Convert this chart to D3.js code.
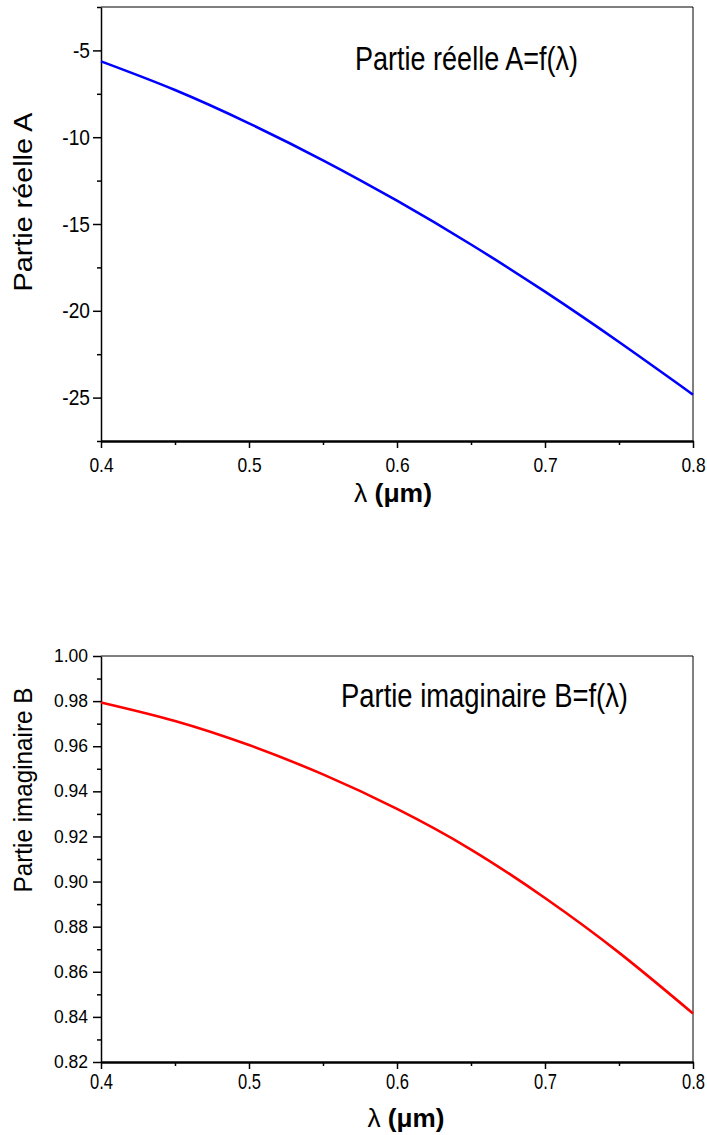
<!DOCTYPE html>
<html>
<head>
<meta charset="utf-8">
<script src="https://cdn.jsdelivr.net/npm/d3@7"></script>
<style>
  body { margin: 0; background: #fff; }
  svg text { font-family: "Liberation Sans", Arial, sans-serif; fill: #000; }
</style>
</head>
<body>
<svg id="chart" width="707" height="1135"></svg>
<script>
// wavelength (um)
var lambda = [0.40, 0.45, 0.50, 0.55, 0.60, 0.65, 0.70, 0.75, 0.80];
// real part A
var partieReelle = [-5.63, -7.28, -9.20, -11.33, -13.66, -16.18, -18.90, -21.80, -24.83];
// imaginary part B
var partieImaginaire = [0.9794, 0.9712, 0.9605, 0.9475, 0.9322, 0.9142, 0.8927, 0.8685, 0.8415];

var xTicks = [0.4, 0.5, 0.6, 0.7, 0.8];
var xMinor = [0.45, 0.55, 0.65, 0.75];
var yTicksA = [-25, -20, -15, -10, -5];
var yMinorA = [-27.5, -22.5, -17.5, -12.5, -7.5, -2.5];
var yTicksB = [0.82, 0.84, 0.86, 0.88, 0.90, 0.92, 0.94, 0.96, 0.98, 1.00];
var yMinorB = [0.83, 0.85, 0.87, 0.89, 0.91, 0.93, 0.95, 0.97, 0.99];

var svg = d3.select("#chart");

/* squeeze text horizontally like the stretched original */
function condense(sel, ratio){
    sel.each(function(){
        var w = this.getComputedTextLength();
        d3.select(this).attr("textLength", w*ratio).attr("lengthAdjust", "spacingAndGlyphs");
    });
}

function panel(o){
    var g = svg.append("g");
    var x = d3.scaleLinear().domain([0.4, 0.8]).range([o.left, o.right]);
    var y = d3.scaleLinear().domain(o.yDomain).range([o.bottom, o.top]);

    // frame top + right
    g.append("line").attr("x1", o.left).attr("x2", o.right).attr("y1", o.top).attr("y2", o.top)
        .attr("stroke", "#000").attr("stroke-width", 1);
    g.append("line").attr("x1", o.right).attr("x2", o.right).attr("y1", o.top).attr("y2", o.bottom)
        .attr("stroke", "#000").attr("stroke-width", 1);

    // minor ticks
    g.append("g").attr("transform", "translate(" + o.left + ",0)")
        .call(d3.axisLeft(y).tickValues(o.yMinor).tickSize(4).tickFormat(""))
        .call(function(a){ a.select(".domain").remove(); a.selectAll("line").attr("stroke-width", 1.5); });
    g.append("g").attr("transform", "translate(0," + o.bottom + ")")
        .call(d3.axisBottom(x).tickValues(xMinor).tickSize(4).tickFormat(""))
        .call(function(a){ a.select(".domain").remove(); a.selectAll("line").attr("stroke-width", 1.5); });

    // y axis
    var ya = g.append("g").attr("transform", "translate(" + o.left + ",0)")
        .call(d3.axisLeft(y).tickValues(o.yTicks).tickSize(8).tickSizeOuter(0).tickPadding(o.yPad).tickFormat(o.yFormat));
    ya.select(".domain").attr("stroke-width", 1.5);
    ya.selectAll("line").attr("stroke-width", 1.5);
    ya.selectAll("text").attr("font-size", o.yFont).style("font-family", '"Liberation Sans", Arial, sans-serif');
    condense(ya.selectAll("text"), o.yRatio);

    // x axis
    var xa = g.append("g").attr("transform", "translate(0," + o.bottom + ")")
        .call(d3.axisBottom(x).tickValues(xTicks).tickSize(7).tickSizeOuter(0).tickPadding(o.xPad).tickFormat(d3.format(".1f")));
    xa.select(".domain").attr("stroke-width", 2.5);
    xa.selectAll("line").attr("stroke-width", 1.5);
    xa.selectAll("text").attr("font-size", o.xFont).style("font-family", '"Liberation Sans", Arial, sans-serif');
    condense(xa.selectAll("text"), o.xRatio);

    // curve
    var line = d3.line()
        .x(function(d, i){ return x(lambda[i]); })
        .y(function(d){ return y(d); })
        .curve(d3.curveNatural);
    g.append("path").datum(o.values)
        .attr("d", line)
        .attr("fill", "none")
        .attr("stroke", o.color)
        .attr("stroke-width", 2.6);

    // annotation
    var ann = g.append("text").attr("x", o.annX).attr("y", o.annY).attr("font-size", 33)
        .text(o.annText);
    ann.attr("textLength", o.annW).attr("lengthAdjust", "spacingAndGlyphs");

    // y title
    g.append("text")
        .attr("transform", "translate(32," + o.yTitleC + ") rotate(-90)")
        .attr("text-anchor", "middle")
        .attr("font-size", 26)
        .attr("textLength", o.yTitleW).attr("lengthAdjust", "spacingAndGlyphs")
        .text(o.yTitle);

    // x title
    var xt = g.append("text")
        .attr("x", o.xTitleX).attr("y", o.xTitleY)
        .attr("text-anchor", "middle")
        .attr("font-size", 25)
        .attr("textLength", o.xTitleW).attr("lengthAdjust", "spacingAndGlyphs");
    xt.append("tspan").text("\u03bb");
    xt.append("tspan").attr("font-weight", "bold").text(" (\u03bcm)");
}

panel({
    left: 101, right: 693, top: 7, bottom: 441,
    yDomain: [-27.5, -2.5], yTicks: yTicksA, yMinor: yMinorA,
    yFormat: function(d){ return String(d); },
    yFont: 22, yRatio: 0.87, yPad: 3,
    xFont: 21, xRatio: 0.83, xPad: 9,
    values: partieReelle, color: "#0000ff",
    annText: "Partie r\u00e9elle A=f(\u03bb)", annX: 355, annY: 70, annW: 223,
    yTitle: "Partie r\u00e9elle A", yTitleC: 202, yTitleW: 179,
    xTitleX: 393, xTitleY: 502, xTitleW: 78
});

panel({
    left: 101, right: 693, top: 656, bottom: 1062,
    yDomain: [0.82, 1.00], yTicks: yTicksB, yMinor: yMinorB,
    yFormat: d3.format(".2f"),
    yFont: 17.5, yRatio: 1.0, yPad: 5,
    xFont: 22, xRatio: 0.75, xPad: 4,
    values: partieImaginaire, color: "#ff0000",
    annText: "Partie imaginaire B=f(\u03bb)", annX: 341, annY: 707, annW: 287,
    yTitle: "Partie imaginaire B", yTitleC: 790, yTitleW: 205,
    xTitleX: 406, xTitleY: 1127, xTitleW: 77
});
</script>
</body>
</html>
